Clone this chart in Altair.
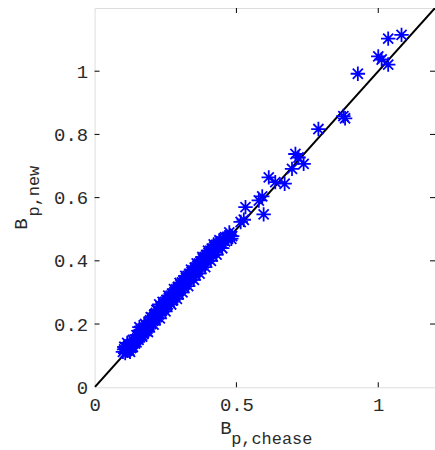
import altair as alt
import pandas as pd

# Data: B_p,chease (x) vs B_p,new (y)
x_vals = [
    0.100, 0.104, 0.108, 0.112, 0.115, 0.118, 0.122, 0.125, 0.128, 0.132,
    0.135, 0.138, 0.142, 0.145, 0.148, 0.152, 0.155, 0.158, 0.160, 0.163,
    0.166, 0.170, 0.172, 0.176, 0.180, 0.183, 0.186, 0.190, 0.193, 0.196,
    0.200, 0.203, 0.206, 0.210, 0.213, 0.216, 0.220, 0.223, 0.226, 0.228,
    0.232, 0.235, 0.238, 0.242, 0.245, 0.248, 0.252, 0.255, 0.258, 0.262,
    0.265, 0.268, 0.272, 0.275, 0.278, 0.282, 0.285, 0.288, 0.292, 0.295,
    0.298, 0.302, 0.305, 0.308, 0.312, 0.315, 0.318, 0.322, 0.325, 0.328,
    0.332, 0.335, 0.338, 0.342, 0.345, 0.348, 0.352, 0.355, 0.358, 0.362,
    0.365, 0.368, 0.372, 0.375, 0.378, 0.382, 0.385, 0.388, 0.392, 0.395,
    0.398, 0.402, 0.405, 0.408, 0.412, 0.415, 0.418, 0.422, 0.425, 0.428,
    0.432, 0.435, 0.440, 0.445, 0.450, 0.455, 0.460, 0.465, 0.470, 0.478,
    0.485,
    0.105, 0.115, 0.125, 0.135, 0.148, 0.158, 0.168, 0.178, 0.188, 0.198,
    0.208, 0.218, 0.230, 0.240, 0.250, 0.260, 0.270, 0.280, 0.290, 0.300,
    0.310, 0.320, 0.330, 0.340, 0.350, 0.360, 0.370, 0.380, 0.390, 0.400,
    0.410, 0.420, 0.430, 0.440, 0.450, 0.460, 0.475, 0.482,
    0.515, 0.526, 0.532, 0.579, 0.596, 0.591, 0.614, 0.637, 0.670, 0.696,
    0.708, 0.719, 0.737, 0.789, 0.877, 0.883, 0.928, 1.000, 1.012, 1.035,
    1.035, 1.082,
]
y_vals = [
    0.112, 0.120, 0.108, 0.125, 0.115, 0.130, 0.118, 0.135, 0.124, 0.140,
    0.128, 0.145, 0.138, 0.150, 0.142, 0.165, 0.150, 0.178, 0.158, 0.182,
    0.165, 0.186, 0.170, 0.188, 0.178, 0.195, 0.185, 0.205, 0.192, 0.212,
    0.200, 0.220, 0.210, 0.228, 0.215, 0.235, 0.222, 0.245, 0.230, 0.262,
    0.240, 0.255, 0.243, 0.262, 0.250, 0.270, 0.258, 0.275, 0.262, 0.282,
    0.270, 0.290, 0.278, 0.296, 0.284, 0.302, 0.290, 0.310, 0.298, 0.318,
    0.305, 0.325, 0.312, 0.332, 0.318, 0.338, 0.325, 0.345, 0.332, 0.352,
    0.340, 0.358, 0.346, 0.365, 0.352, 0.370, 0.358, 0.378, 0.365, 0.384,
    0.372, 0.392, 0.380, 0.398, 0.386, 0.405, 0.392, 0.412, 0.400, 0.418,
    0.406, 0.425, 0.412, 0.432, 0.420, 0.438, 0.426, 0.445, 0.432, 0.450,
    0.440, 0.455, 0.448, 0.462, 0.455, 0.468, 0.462, 0.472, 0.470, 0.480,
    0.478,
    0.128, 0.140, 0.112, 0.150, 0.165, 0.190, 0.160, 0.200, 0.175, 0.222,
    0.198, 0.245, 0.218, 0.270, 0.240, 0.290, 0.262, 0.310, 0.280, 0.330,
    0.300, 0.352, 0.320, 0.372, 0.340, 0.392, 0.360, 0.412, 0.380, 0.432,
    0.400, 0.452, 0.420, 0.465, 0.440, 0.475, 0.490, 0.470,
    0.523, 0.530, 0.570, 0.591, 0.547, 0.604, 0.664, 0.649, 0.644, 0.691,
    0.738, 0.727, 0.707, 0.817, 0.858, 0.851, 0.992, 1.047, 1.037, 1.021,
    1.103, 1.115,
]
diag = [0.0, 1.2]
x_ticks = [0.5, 1.0]
y_ticks = [0.2, 0.4, 0.6, 0.8, 1.0]

W, H = 342, 381
FONT = "Liberation Mono"
TXT = "#2a2a2a"

pts = pd.DataFrame({"x": x_vals, "y": y_vals})
line_df = pd.DataFrame({"x": diag, "y": diag})
xt = pd.DataFrame({"v": x_ticks})
yt = pd.DataFrame({"v": y_ticks})

xscale = alt.Scale(domain=[0, 1.2], nice=False, zero=False)
yscale = alt.Scale(domain=[0, 1.2], nice=False, zero=False)

xaxis = alt.Axis(values=[0, 0.5, 1], format="~g", title=None, grid=False, domain=False,
                 ticks=False, tickSize=0, labelFont=FONT, labelFontSize=19,
                 labelColor=TXT, labelPadding=8, labelFlush=False)
yaxis = alt.Axis(values=[0, 0.2, 0.4, 0.6, 0.8, 1], format="~g", title=None, grid=False,
                 domain=False, ticks=False, tickSize=0, labelFont=FONT, labelFontSize=19,
                 labelColor=TXT, labelPadding=7, labelFlush=False)

star = "M-1,0L1,0M0,-1L0,1M-0.7,-0.7L0.7,0.7M-0.7,0.7L0.7,-0.7"

points = alt.Chart(pts).mark_point(
    shape=star, filled=False, stroke="#0000ff", strokeWidth=1.8, size=210, opacity=1
).encode(
    x=alt.X("x:Q", scale=xscale, axis=xaxis),
    y=alt.Y("y:Q", scale=yscale, axis=yaxis),
)

line = alt.Chart(line_df).mark_line(color="black", strokeWidth=2, clip=True).encode(
    x=alt.X("x:Q", scale=xscale), y=alt.Y("y:Q", scale=yscale)
)

tick_b = alt.Chart(xt).mark_rule(color="black", strokeWidth=1).encode(
    x=alt.X("v:Q", scale=xscale), y=alt.value(H), y2=alt.value(H - 5))
tick_t = alt.Chart(xt).mark_rule(color="black", strokeWidth=1).encode(
    x=alt.X("v:Q", scale=xscale), y=alt.value(0), y2=alt.value(5))
tick_l = alt.Chart(yt).mark_rule(color="black", strokeWidth=1).encode(
    y=alt.Y("v:Q", scale=yscale), x=alt.value(0), x2=alt.value(5))
tick_r = alt.Chart(yt).mark_rule(color="black", strokeWidth=1).encode(
    y=alt.Y("v:Q", scale=yscale), x=alt.value(W), x2=alt.value(W - 5))

title_df = pd.DataFrame({"t": ["B"]})
xt_main = alt.Chart(title_df).mark_text(font=FONT, fontSize=19, color=TXT, align="center",
                                        baseline="middle").encode(
    text="t:N", x=alt.value(132), y=alt.value(422))
xt_sub = alt.Chart(pd.DataFrame({"t": ["p,chease"]})).mark_text(
    font=FONT, fontSize=17, color=TXT, align="center", baseline="middle").encode(
    text="t:N", x=alt.value(178), y=alt.value(433))
yt_main = alt.Chart(title_df).mark_text(font=FONT, fontSize=19, color=TXT, align="center",
                                        baseline="middle", angle=270).encode(
    text="t:N", x=alt.value(-74), y=alt.value(217))
yt_sub = alt.Chart(pd.DataFrame({"t": ["p,new"]})).mark_text(
    font=FONT, fontSize=17, color=TXT, align="center", baseline="middle", angle=270).encode(
    text="t:N", x=alt.value(-61), y=alt.value(184))

chart = alt.layer(
    line, points, tick_b, tick_t, tick_l, tick_r, xt_main, xt_sub, yt_main, yt_sub
).properties(
    width=W, height=H,
    autosize=alt.AutoSizeParams(type="none"),
    padding={"left": 95, "top": 7, "right": 0, "bottom": 62},
).configure_view(stroke="black", strokeWidth=1.5).configure(background="white")

chart.save("out.html", embed_options={"renderer": "svg", "actions": False})
